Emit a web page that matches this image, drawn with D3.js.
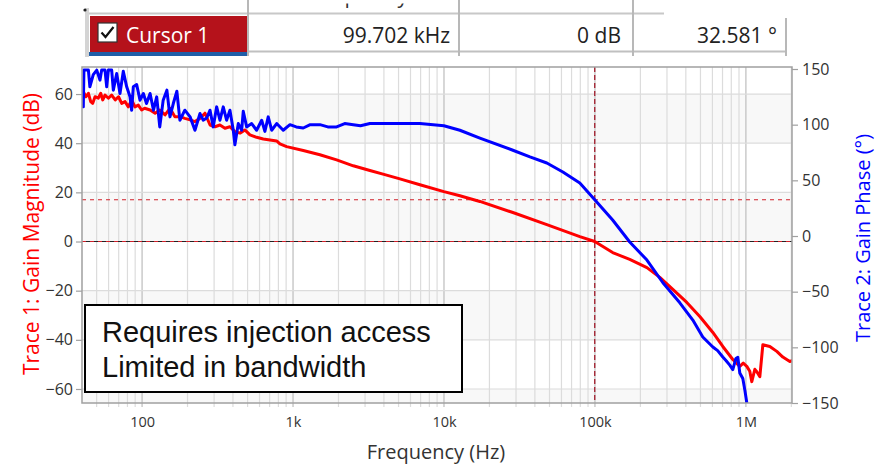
<!DOCTYPE html>
<meta charset="utf-8">
<title>Bode plot</title>
<style>
  body { margin: 0; background: #fff; }
  text { font-family: "Open Sans", "Noto Sans", sans-serif; }
  .grid line { stroke: #dcdcdc; stroke-width: 1.2px; }
  .grid line.major { stroke: #bdbdbd; }
  .trace { fill: none; stroke-width: 3px; stroke-linejoin: round; stroke-linecap: round; }
</style>
<body>
<script src="https://cdn.jsdelivr.net/npm/d3@7"></script>
<script>

// trace 1: gain magnitude (dB)
var magFreq = [40.8, 42.5, 44.1, 45.7, 47.1, 48.8, 51.3, 53.2, 54.9, 56.8, 59.8, 62.9, 66.4, 69.8, 73.3, 77.1,
  81.1, 85.3, 89.7, 94.4, 99.3, 104, 113, 122, 131, 142, 153, 165, 178, 192, 208, 224, 242, 261, 282, 304,
  328, 354, 382, 412, 445, 480, 518, 574, 635, 703, 779, 819, 907, 1169, 1507, 1944, 2506, 3230, 4000, 5105,
  6926, 9987, 12746, 17290, 28600, 48000, 79400, 99700, 131000, 170000, 221000, 269000, 328000, 406000,
  495000, 604000, 703000, 819000, 911000, 960000, 1014000, 1061000, 1094000, 1146000, 1181000, 1237000,
  1295000, 1440000, 1602000, 1756000, 1954000, 2020000];
var magDb = [60.9, 58.9, 60.3, 56.9, 56.2, 58.9, 58.3, 60.3, 57.6, 59.6, 58.3, 59.6, 57.6, 58.9, 56.2, 56.9,
  54.8, 57.6, 54.8, 55.5, 53.5, 54.2, 53.5, 52.2, 53.5, 51.5, 54.2, 50.8, 50.8, 50.1, 49.5, 48.8, 50.1, 52.2, 47.4, 46.7,
  47.4, 46.1, 46.7, 44.7, 44.1, 45.4, 43.4, 42.4, 41.7, 41.3, 40.9, 39.7, 38.6, 37.0, 35.3, 33.2, 30.8, 28.9, 27.3, 25.5,
  23.1, 20.3, 18.6, 16.3, 11.8, 6.9, 2.0, 0, -4.5, -7.3, -10.6, -14.6, -19.5, -24.8,
  -30.5, -37, -42.7, -48, -50.8, -49.5, -50.8, -52.8, -57, -52, -53, -55,
  -42, -42.7, -44.7, -47, -48.8, -48.5];

// trace 2: gain phase (deg)
var phaseFreq = [40.8, 41.2, 44.1, 45.1, 47.5, 50.1, 52.6, 54.0, 56.8, 58.3, 59.8, 62.9, 64.5, 67.9, 71.4, 75.1,
  79.1, 83.2, 85.3, 87.5, 92.1, 96.9, 102, 107, 113, 119, 125, 131, 138, 146, 153, 161, 170, 178, 192, 208,
  224, 242, 254, 268, 282, 296, 312, 328, 345, 363, 382, 402, 412, 434, 457, 468, 493, 532, 574, 620, 651,
  685, 722, 779, 861, 954, 1050, 1169, 1300, 1507, 1700, 1944, 2200, 2506, 2800, 3230, 5105, 6926, 9987, 12746,
  17290, 28600, 37100, 48000, 61300, 79400, 99700, 131000, 170000, 221000, 282000, 365000, 445000, 518000,
  604000, 650000, 703000, 740000, 782000, 819000, 858000, 884000, 911000, 954000, 983000, 1014000, 1045000];
var phaseDeg = [116, 149, 149, 134, 145, 149, 140, 149, 149, 134, 149, 149, 131, 146, 128, 148,
  134, 125, 113, 134, 136, 122, 128, 119, 128, 113, 125, 98, 122, 131, 107, 119, 130, 104, 113, 107,
  95, 110, 104, 106, 113, 98, 116, 104, 116, 104, 113, 95, 82, 101, 95, 112, 98, 101, 95, 104, 94,
  107, 95, 101, 95, 100, 98, 97, 100, 100, 98, 98, 101, 100, 99, 101, 101, 101, 99, 95,
  88, 77, 71, 65.6, 57.5, 47.6, 32.6, 14.4, -5.4, -21.6, -42, -60, -75.5, -90.7,
  -99.7, -103, -108.7, -112, -116, -120, -110, -109, -123, -128, -138, -150, -160];

var magTicks = [-60, -40, -20, 0, 20, 40, 60];
var phaseTicks = [-150, -100, -50, 0, 50, 100, 150];
var freqTicks = [100, 1e3, 1e4, 1e5, 1e6];
var freqTickLabels = ['100', '1k', '10k', '100k', '1M'];

var cursorFreq = 99702, cursorMag = 0, cursorPhase = 32.581;
var cursorCells = ['99.702 kHz', '0 dB', '32.581 °'];

var svg = d3.select('body').append('svg').attr('width', 879).attr('height', 467);

var pLeft = 82, pRight = 792, pTop = 67, pBottom = 403;
var x = d3.scaleLog().domain([40, 2.02e6]).range([pLeft, pRight]);
var yMag = d3.scaleLinear().domain([-65.7, 71]).range([pBottom, pTop]);
var yPh = d3.scaleLinear().domain([-150, 151.8]).range([pBottom, pTop]);

// ---- cursor table on top
var tbl = svg.append('g');
tbl.append('rect').attr('x', 85).attr('y', 8).attr('width', 4).attr('height', 49).attr('fill', '#d4d4d4');
tbl.append('circle').attr('cx', 85).attr('cy', 10).attr('r', 1.6).attr('fill', '#222');
tbl.append('text').attr('x', 357).attr('y', 3).attr('text-anchor', 'middle')
  .attr('font-size', 21).attr('fill', '#333').text('Frequency');
tbl.append('rect').attr('x', 89).attr('y', 0).attr('width', 576).attr('height', 3.5).attr('fill', '#fff');
tbl.append('line').attr('x1', 89).attr('x2', 664).attr('y1', 13.5).attr('y2', 13.5)
  .attr('stroke', '#c8c8c8').attr('stroke-width', 2);
tbl.append('rect').attr('x', 90).attr('y', 16).attr('width', 158).attr('height', 36).attr('fill', '#b5121b');
tbl.append('rect').attr('x', 89).attr('y', 52).attr('width', 159).attr('height', 4).attr('fill', '#1f5ea8');
tbl.append('rect').attr('x', 98).attr('y', 23).attr('width', 19).attr('height', 19)
  .attr('fill', '#fff').attr('stroke', '#333').attr('stroke-width', 1.2);
tbl.append('path').attr('d', 'M101.5,32.5 L105.5,37 L113.5,27').attr('fill', 'none')
  .attr('stroke', '#111').attr('stroke-width', 2.2);
tbl.append('text').attr('x', 126).attr('y', 43).attr('font-size', 21).attr('fill', '#fff').text('Cursor 1');
tbl.append('line').attr('x1', 248).attr('x2', 787).attr('y1', 51.5).attr('y2', 51.5)
  .attr('stroke', '#c0c0c0').attr('stroke-width', 2);
[248, 459, 633].forEach(function(sx) {
  tbl.append('line').attr('x1', sx).attr('x2', sx).attr('y1', 0).attr('y2', 56)
    .attr('stroke', '#b8b8b8').attr('stroke-width', 2);
});
tbl.append('line').attr('x1', 786).attr('x2', 786).attr('y1', 18).attr('y2', 56)
  .attr('stroke', '#b8b8b8').attr('stroke-width', 2);
var cellEnds = [450, 621, 777];
cursorCells.forEach(function(t, i) {
  tbl.append('text').attr('x', cellEnds[i]).attr('y', 43).attr('text-anchor', 'end')
    .attr('font-size', 21).attr('fill', '#222').text(t);
});

// ---- plot background bands and grid
var bands = [[40, 60], [0, 20], [-40, -20], [-65.7, -60]];
svg.append('g').selectAll('rect').data(bands).enter().append('rect')
  .attr('x', pLeft).attr('width', pRight - pLeft)
  .attr('y', function(d) { return yMag(d[1]); })
  .attr('height', function(d) { return yMag(d[0]) - yMag(d[1]); })
  .attr('fill', '#f8f8f8');

var minor = [];
[10, 100, 1e3, 1e4, 1e5, 1e6].forEach(function(dec) {
  for (var k = 1; k < 10; k++) {
    var f = dec * k;
    if (f > 40 && f < 2.02e6) minor.push(f);
  }
});
var grid = svg.append('g').attr('class', 'grid');
grid.selectAll('line.v').data(minor).enter().append('line')
  .attr('class', function(d) { return freqTicks.indexOf(d) >= 0 ? 'v major' : 'v'; })
  .attr('x1', function(d) { return x(d); }).attr('x2', function(d) { return x(d); })
  .attr('y1', pTop).attr('y2', pBottom + 4);
grid.selectAll('line.h').data(magTicks).enter().append('line')
  .attr('class', 'h')
  .attr('x1', pLeft).attr('x2', pRight)
  .attr('y1', function(d) { return yMag(d); }).attr('y2', function(d) { return yMag(d); });

// ---- cursor lines
svg.append('line').attr('x1', pLeft).attr('x2', pRight).attr('y1', yMag(cursorMag)).attr('y2', yMag(cursorMag))
  .attr('stroke', '#222').attr('stroke-width', 1.2);
svg.append('line').attr('x1', pLeft).attr('x2', pRight).attr('y1', yMag(cursorMag)).attr('y2', yMag(cursorMag))
  .attr('stroke', '#d0202a').attr('stroke-width', 1.2).attr('stroke-dasharray', '4,4');
svg.append('line').attr('x1', pLeft).attr('x2', pRight).attr('y1', yPh(cursorPhase)).attr('y2', yPh(cursorPhase))
  .attr('stroke', '#d0202a').attr('stroke-width', 1.2).attr('stroke-dasharray', '4,4');
svg.append('line').attr('x1', x(cursorFreq)).attr('x2', x(cursorFreq)).attr('y1', pTop).attr('y2', pBottom)
  .attr('stroke', '#a01020').attr('stroke-width', 1.2).attr('stroke-dasharray', '5,3');

// ---- traces
svg.append('clipPath').attr('id', 'clip').append('rect')
  .attr('x', pLeft).attr('y', pTop).attr('width', pRight - pLeft).attr('height', pBottom - pTop);
var plot = svg.append('g').attr('clip-path', 'url(#clip)');

var magLine = d3.line().x(function(d, i) { return x(magFreq[i]); }).y(function(d) { return yMag(d); });
var phLine = d3.line().x(function(d, i) { return x(phaseFreq[i]); }).y(function(d) { return yPh(d); });

plot.append('path').attr('class', 'trace').attr('stroke', '#ff0000').attr('d', magLine(magDb));
plot.append('path').attr('class', 'trace').attr('stroke', '#0000ff').attr('d', phLine(phaseDeg));

// ---- frame and axes
svg.append('rect').attr('x', pLeft).attr('y', pTop).attr('width', pRight - pLeft).attr('height', pBottom - pTop)
  .attr('fill', 'none').attr('stroke', '#a0a0a0').attr('stroke-width', 1.5);

var axL = d3.axisLeft(yMag).tickValues(magTicks).tickSize(6).tickPadding(3);
var gL = svg.append('g').attr('transform', 'translate(' + pLeft + ',0)').call(axL);
var axR = d3.axisRight(yPh).tickValues(phaseTicks).tickSize(6).tickPadding(4);
var gR = svg.append('g').attr('transform', 'translate(' + pRight + ',0)').call(axR);
var axB = d3.axisBottom(x).tickValues(freqTicks).tickSize(0).tickPadding(14)
  .tickFormat(function(d, i) { return freqTickLabels[i]; });
var gB = svg.append('g').attr('transform', 'translate(0,' + pBottom + ')').call(axB);

[gL, gR, gB].forEach(function(g) {
  g.select('.domain').remove();
  g.selectAll('.tick line').attr('stroke', '#a0a0a0').attr('stroke-width', 1.2);
  g.selectAll('.tick text').attr('fill', '#333').style('font-family', '"Open Sans", sans-serif');
});
gL.selectAll('.tick text').attr('font-size', 16);
gR.selectAll('.tick text').attr('font-size', 16);
gB.selectAll('.tick text').attr('font-size', 14.5);

// axis titles
svg.append('text').attr('transform', 'translate(39,234) rotate(-90)').attr('text-anchor', 'middle')
  .attr('font-size', 21).attr('fill', '#ff0000').text('Trace 1: Gain Magnitude (dB)');
svg.append('text').attr('transform', 'translate(870,238) rotate(-90)').attr('text-anchor', 'middle')
  .attr('font-size', 20).attr('fill', '#0000ff').text('Trace 2: Gain Phase (°)');
svg.append('text').attr('x', 436).attr('y', 459).attr('text-anchor', 'middle')
  .attr('font-size', 20).attr('fill', '#333').text('Frequency (Hz)');

// ---- annotation box
svg.append('rect').attr('x', 85).attr('y', 305).attr('width', 377).attr('height', 87)
  .attr('fill', '#fff').attr('stroke', '#000').attr('stroke-width', 2);
svg.append('text').attr('x', 102).attr('y', 342).attr('font-size', 29).attr('fill', '#111')
  .style('font-family', '"Liberation Sans", Arial, sans-serif').text('Requires injection access');
svg.append('text').attr('x', 102).attr('y', 377).attr('font-size', 29).attr('fill', '#111')
  .style('font-family', '"Liberation Sans", Arial, sans-serif').text('Limited in bandwidth');

</script>
</body>
